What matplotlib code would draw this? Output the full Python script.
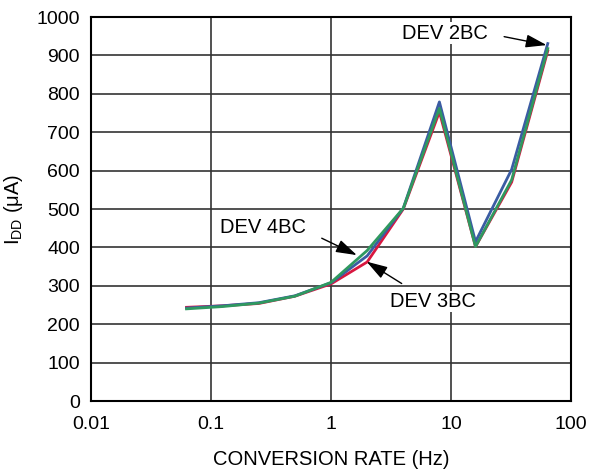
import numpy as np
import matplotlib.pyplot as plt

plt.rcParams['font.family'] = ['Liberation Sans', 'DejaVu Sans']

rate = [0.0625, 0.125, 0.25, 0.5, 1, 2, 4, 8, 16, 32, 64]
dev3 = [244, 248, 254, 273, 305, 362, 500, 753, 402, 570, 912]
dev2 = [242, 248, 256, 274, 308, 378, 502, 779, 415, 603, 931]
dev4 = [240, 246, 255, 273, 309, 392, 502, 762, 402, 576, 918]

fig = plt.figure(figsize=(5.89, 4.74), dpi=100)
ax = fig.add_axes([0.1545, 0.154, 0.815, 0.81])

ax.plot(rate, dev3, color='#d8173f', lw=2)
ax.plot(rate, dev2, color='#3b5ca3', lw=2)
ax.plot(rate, dev4, color='#2f9960', lw=2)

ax.set_xscale('log')
ax.set_xlim(0.01, 100)
ax.set_ylim(0, 1000)
ax.set_xticks([0.01, 0.1, 1, 10, 100])
ax.set_xticklabels(['0.01', '0.1', '1', '10', '100'])
ax.set_yticks(np.arange(0, 1001, 100))
ax.minorticks_off()
ax.tick_params(labelsize=14, length=0)
ax.tick_params(axis='x', pad=11)
ax.tick_params(axis='y', pad=8)
ax.grid(True, color='#333333', lw=1.2)
for s in ax.spines.values():
    s.set_linewidth(1.5)

ax.set_xlabel('CONVERSION RATE (Hz)', fontsize=14.5)
ax.set_ylabel('I$_{\\mathregular{DD}}$ (\u03bcA)', fontsize=14.5)
ax.xaxis.set_label_coords(0.5, -0.128)
ax.yaxis.set_label_coords(-0.137, 0.5)

box = dict(facecolor='white', edgecolor='none', pad=1)
arrow = dict(arrowstyle='-|>,head_length=0.8,head_width=0.25', color='black',
             lw=1, mutation_scale=16, shrinkA=0, shrinkB=0)

ax.text(8.9, 958, 'DEV 2BC', fontsize=14.5, ha='center', va='center', bbox=box)
ax.annotate('', xy=(62.6, 927), xytext=(27.7, 949), arrowprops=arrow)

ax.text(0.271, 451, 'DEV 4BC', fontsize=14.5, ha='center', va='center', bbox=box)
ax.annotate('', xy=(1.64, 380), xytext=(0.837, 424), arrowprops=arrow)

ax.text(7.13, 259, 'DEV 3BC', fontsize=14.5, ha='center', va='center', bbox=box)
ax.annotate('', xy=(1.98, 363), xytext=(3.88, 306), arrowprops=arrow)

fig.savefig('out.png', dpi=100)
